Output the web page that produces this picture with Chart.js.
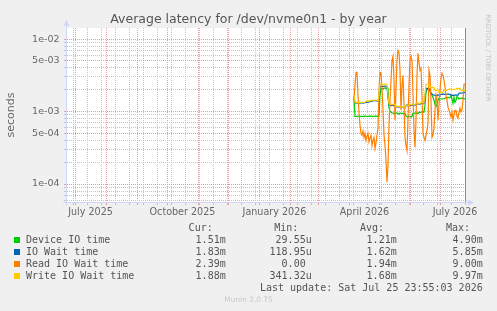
<!DOCTYPE html>
<html>
<head>
<meta charset="utf-8">
<title>Average latency for /dev/nvme0n1 - by year</title>
<script src="https://cdn.jsdelivr.net/npm/chart.js@4.4.1/dist/chart.umd.min.js"></script>
<style>
  body { margin: 0; background: #f0f0f0; }
  .wrap { position: relative; width: 497px; height: 311px; overflow: hidden; font-family: "DejaVu Sans", sans-serif; color: #666; }
  #chart { position: absolute; left: 0; top: 0; }
  .title { position: absolute; left: 0; top: 12px; width: 497px; text-align: center; font-size: 12.5px; line-height: 14px; color: #555; }
  .ylabel { position: absolute; left: -39px; top: 108px; width: 100px; text-align: center; font-size: 11px; line-height: 14px; transform: rotate(-90deg); }
  .rrd { position: absolute; left: 438px; top: 53px; width: 100px; text-align: center; font-size: 6.8px; line-height: 10px; color: #c4c4c4; transform: rotate(90deg); white-space: nowrap; }
  .legend div { position: absolute; font-family: "DejaVu Sans Mono", monospace; font-size: 10px; line-height: 12px; white-space: pre; color: #555; }
  .legend .sw { width: 6px; height: 6px; }
  .munin { position: absolute; left: 0; top: 295px; width: 497px; text-align: center; font-size: 7.4px; line-height: 10px; color: #c8c8c8; }
</style>
</head>
<body>
<div class="wrap">
  <canvas id="chart" width="497" height="311"></canvas>
  <div class="title">Average latency for /dev/nvme0n1 - by year</div>
  <div class="ylabel">seconds</div>
  <div class="rrd">RRDTOOL / TOBI OETIKER</div>
  <div class="legend"></div>
  <div class="munin">Munin 2.0.75</div>
</div>
<script>
// x values are days since 1 July 2025, one point per day (daily consolidation)
const firstDay = 279;

// values in milliseconds
const deviceMs = [
  1.52, 0.86, 0.86, 0.85, 0.86, 0.87, 0.86, 0.86, 0.85, 0.86,
  0.86, 0.87, 0.86, 0.85, 0.86, 0.86, 0.87, 0.86, 0.86, 0.85,
  0.86, 0.86, 0.87, 0.86, 0.86, 0.88, 1.68, 2.09, 2.09, 2.05,
  2.09, 2.12, 2.09, 2.05, 2.09, 1.11, 1.01, 0.98, 0.96, 0.95,
  0.95, 0.92, 0.95, 0.96, 0.94, 0.92, 0.95, 0.95, 0.94, 0.95,
  0.93, 0.95, 0.86, 0.85, 0.84, 0.86, 0.85, 0.84, 0.86, 0.95,
  0.94, 0.95, 0.96, 0.95, 0.94, 0.98, 0.97, 0.98, 0.99, 0.98,
  0.98, 1.22, 1.84, 2.03, 2.03, 1.97, 1.90, 1.79, 1.68, 1.57,
  1.43, 1.26, 1.18, 1.26, 1.43, 1.52, 1.50, 1.50, 1.48, 1.50,
  1.50, 1.52, 1.55, 1.55, 1.57, 1.55, 1.55, 1.68, 1.48, 1.30,
  1.57, 1.34, 1.43, 1.62, 1.57, 1.48, 1.52, 1.52, 1.53, 1.52,
  1.50, 1.51
];
const ioWaitMs = [
  1.62, 1.32, 1.31, 1.32, 1.33, 1.32, 1.31, 1.32, 1.32, 1.31,
  1.32, 1.33, 1.34, 1.35, 1.34, 1.36, 1.37, 1.38, 1.39, 1.40,
  1.41, 1.42, 1.40, 1.41, 1.40, 1.57, 2.23, 2.25, 2.23, 2.21,
  2.23, 2.25, 2.23, 2.20, 1.57, 1.22, 1.23, 1.22, 1.21, 1.22,
  1.20, 1.22, 1.16, 1.17, 1.16, 1.15, 1.16, 1.13, 1.14, 1.14,
  1.13, 1.12, 1.20, 1.24, 1.19, 1.20, 1.21, 1.22, 1.22, 1.24,
  1.23, 1.22, 1.26, 1.27, 1.28, 1.27, 1.26, 1.30, 1.31, 1.32,
  1.31, 1.57, 2.09, 2.09, 2.07, 2.05, 2.03, 1.79, 1.75, 1.70,
  1.68, 1.68, 1.66, 1.68, 1.70, 1.68, 1.68, 1.73, 1.73, 1.75,
  1.73, 1.73, 1.72, 1.73, 1.75, 1.73, 1.73, 1.68, 1.68, 1.66,
  1.68, 1.68, 1.70, 1.68, 1.68, 1.79, 1.80, 1.79, 1.80, 1.82,
  1.82, 1.83
];
const readMs = [
  1.43, 2.30, 3.48, 3.48, 1.68, 0.98, 0.65, 0.50, 0.47, 0.54,
  0.44, 0.50, 0.40, 0.46, 0.50, 0.38, 0.43, 0.47, 0.34, 0.40,
  0.44, 0.31, 0.37, 0.47, 0.59, 1.97, 3.48, 3.37, 2.09, 1.04,
  0.47, 0.34, 0.21, 0.106, 0.18, 0.65, 1.43, 2.70, 5.09, 5.78,
  2.70, 0.76, 1.97, 5.09, 6.99, 6.56, 3.71, 1.04, 2.30, 3.16,
  1.22, 0.44, 0.34, 0.29, 0.76, 2.30, 5.09, 5.78, 5.09, 1.68,
  0.55, 0.32, 0.76, 3.16, 6.35, 4.78, 3.71, 3.95, 1.68, 0.50,
  0.44, 0.40, 0.47, 0.55, 0.69, 3.71, 3.16, 1.43, 0.44, 0.47,
  0.59, 1.04, 1.68, 1.43, 0.76, 1.22, 1.97, 2.88, 3.37, 3.16,
  2.70, 2.16, 1.68, 1.43, 1.15, 1.04, 0.95, 0.84, 0.98, 0.76,
  0.89, 1.04, 1.04, 0.86, 0.81, 0.98, 1.11, 0.98, 1.04, 1.43,
  2.38, 2.39
];
const writeMs = [
  1.68, 1.34, 1.34, 1.35, 1.34, 1.34, 1.33, 1.34, 1.35, 1.34,
  1.34, 1.35, 1.39, 1.38, 1.39, 1.40, 1.39, 1.43, 1.42, 1.43,
  1.43, 1.44, 1.43, 1.43, 1.42, 1.68, 2.38, 2.40, 2.38, 2.36,
  2.38, 2.40, 2.38, 2.36, 1.68, 1.26, 1.26, 1.27, 1.25, 1.26,
  1.24, 1.26, 1.18, 1.19, 1.18, 1.17, 1.18, 1.15, 1.15, 1.16,
  1.15, 1.14, 1.22, 1.22, 1.21, 1.22, 1.23, 1.26, 1.26, 1.27,
  1.26, 1.25, 1.30, 1.30, 1.31, 1.30, 1.29, 1.34, 1.34, 1.35,
  1.34, 1.68, 2.38, 2.38, 2.36, 2.30, 2.25, 2.16, 2.16, 2.12,
  2.16, 1.97, 1.95, 1.97, 1.97, 1.84, 1.84, 1.86, 1.84, 1.84,
  1.97, 1.97, 1.95, 1.97, 2.03, 2.03, 2.05, 2.03, 2.03, 2.03,
  2.03, 2.01, 2.03, 2.09, 2.09, 2.07, 2.09, 1.97, 1.97, 1.95,
  1.97, 1.88
];

const seriesNames = ["Device IO time", "IO Wait time", "Read IO Wait time", "Write IO Wait time"];
const seriesColors = ["#00cc00", "#0066b3", "#ff8000", "#ffcc00"];
const curText = ["1.51m", "1.83m", "2.39m", "1.88m"];
const minText = ["29.55u", "118.95u", "0.00 ", "341.32u"];
const avgText = ["1.21m", "1.62m", "1.94m", "1.68m"];
const maxText = ["4.90m", "5.85m", "9.00m", "9.97m"];

// x axis: month starts (red lines) and mid-month labels
const monthStarts = [0, 31, 62, 92, 123, 153, 184, 215, 243, 274, 304, 335, 365];
const monthLabels = ["July 2025", "October 2025", "January 2026", "April 2026", "July 2026"];
const labelDays = [15.5, 107.5, 199.5, 289.5, 380];

const MAJOR = "#e69c9c";
const MINOR = "#c4c4c4";

function toPoints(values) {
  return values.map((v, i) => ({ x: firstDay + i, y: v / 1000 }));
}

function gridColor(tick) {
  if (!tick) return "transparent";
  if (tick.kind === "major") return MAJOR;
  if (tick.kind === "minor") return MINOR;
  return "transparent";
}

// minor lines every 14 days, red ones on the 1st of each month
function buildXTicks(scale) {
  const list = [];
  for (let d = -1.7; d <= 391; d += 14) list.push({ value: d, kind: "minor" });
  monthStarts.forEach(d => list.push({ value: d, kind: "major" }));
  labelDays.forEach((d, i) => list.push({ value: d, kind: "label", text: monthLabels[i] }));
  list.sort((a, b) => a.value - b.value);
  scale.ticks = list;
}

function buildYTicks(scale) {
  const list = [];
  for (let e = -5; e <= -2; e++) {
    for (let m = 1; m <= 9; m++) {
      const v = parseFloat((m * Math.pow(10, e)).toPrecision(3));
      if (v < scale.min || v > scale.max) continue;
      const big = m === 1 || m === 5;
      list.push({
        value: v,
        kind: big ? "major" : "minor",
        text: big ? m + "e-" + String(-e).padStart(2, "0") : ""
      });
    }
  }
  scale.ticks = list;
}

const rrdFrame = {
  id: "rrdFrame",
  beforeDraw(chart) {
    const a = chart.chartArea, c = chart.ctx;
    c.save();
    c.fillStyle = "#ffffff";
    c.fillRect(a.left, a.top, a.right - a.left, a.bottom - a.top);
    c.restore();
  },
  afterDraw(chart) {
    const a = chart.chartArea, c = chart.ctx;
    c.save();
    // right edge line
    c.strokeStyle = "#8c8c8c";
    c.lineWidth = 1;
    c.beginPath();
    c.moveTo(a.right - 0.5, a.top);
    c.lineTo(a.right - 0.5, a.bottom);
    c.stroke();
    // axes with arrows
    c.strokeStyle = "#cfd6f8";
    c.fillStyle = "#cfd6f8";
    c.beginPath();
    c.moveTo(a.left - 0.5, a.bottom + 4);
    c.lineTo(a.left - 0.5, a.top - 2);
    c.moveTo(a.left - 4, a.bottom + 0.5);
    c.lineTo(a.right + 2, a.bottom + 0.5);
    c.stroke();
    c.beginPath();
    c.moveTo(a.left - 0.5, a.top - 8);
    c.lineTo(a.left - 3.5, a.top - 2);
    c.lineTo(a.left + 2.5, a.top - 2);
    c.closePath();
    c.fill();
    c.beginPath();
    c.moveTo(a.right + 8, a.bottom + 0.5);
    c.lineTo(a.right + 2, a.bottom - 2.5);
    c.lineTo(a.right + 2, a.bottom + 3.5);
    c.closePath();
    c.fill();
    c.restore();
  }
};

function makeDataset(i, values, order) {
  return {
    label: seriesNames[i],
    data: toPoints(values),
    borderColor: seriesColors[i],
    borderWidth: 1.2,
    pointRadius: 0,
    fill: false,
    tension: 0,
    order: order
  };
}

const chart = new Chart(document.querySelector("#chart"), {
  type: "line",
  data: {
    datasets: [
      makeDataset(0, deviceMs, 4),
      makeDataset(1, ioWaitMs, 3),
      makeDataset(2, readMs, 2),
      makeDataset(3, writeMs, 1)
    ]
  },
  options: {
    responsive: false,
    devicePixelRatio: 1,
    animation: false,
    layout: { padding: { left: 0, top: 28, right: 31, bottom: 89 } },
    plugins: { legend: { display: false }, tooltip: { enabled: false } },
    scales: {
      x: {
        type: "linear",
        min: -8,
        max: 391,
        bounds: "data",
        afterBuildTicks: buildXTicks,
        afterFit: s => { s.height = 20; },
        border: { display: false, dash: [1, 1] },
        grid: {
          color: ctx => gridColor(ctx.tick),
          tickColor: ctx => gridColor(ctx.tick),
          tickLength: 3,
          lineWidth: 1
        },
        ticks: {
          autoSkip: false,
          maxRotation: 0,
          padding: 2,
          color: "#666",
          font: { family: "DejaVu Sans", size: 9.6 },
          callback: (v, i, ticks) => ticks[i].text || ""
        }
      },
      y: {
        type: "logarithmic",
        min: 5.65e-5,
        max: 0.0142,
        bounds: "data",
        afterBuildTicks: buildYTicks,
        afterFit: s => { s.width = 67; },
        border: { display: false, dash: [1, 1] },
        grid: {
          color: ctx => gridColor(ctx.tick),
          tickColor: ctx => gridColor(ctx.tick),
          tickLength: 3,
          lineWidth: 1
        },
        ticks: {
          autoSkip: false,
          padding: 4.5,
          color: "#666",
          font: { family: "DejaVu Sans", size: 9.5 },
          callback: (v, i, ticks) => ticks[i].text || ""
        }
      }
    }
  },
  plugins: [rrdFrame]
});

// legend table below the graph
const legendBox = document.querySelector(".legend");

function addText(text, x, y, alignRight) {
  const el = document.createElement("div");
  el.textContent = text;
  el.style.top = (y - 6) + "px";
  if (alignRight) el.style.right = (497 - x) + "px";
  else el.style.left = x + "px";
  legendBox.appendChild(el);
  return el;
}

addText("Cur:", 212.7, 228, true);
addText("Min:", 298.3, 228, true);
addText("Avg:", 384, 228, true);
addText("Max:", 470, 228, true);

seriesNames.forEach((name, i) => {
  const y = 239.7 + i * 12;
  const sw = document.createElement("div");
  sw.className = "sw";
  sw.style.left = "14px";
  sw.style.top = (y - 3) + "px";
  sw.style.background = seriesColors[i];
  legendBox.appendChild(sw);
  addText(name, 26, y, false);
  addText(curText[i], 225.7, y, true);
  addText(minText[i], 311.7, y, true);
  addText(avgText[i], 396.7, y, true);
  addText(maxText[i], 482.7, y, true);
});

addText("Last update: Sat Jul 25 23:55:03 2026", 482.7, 287.7, true);
</script>
</body>
</html>
